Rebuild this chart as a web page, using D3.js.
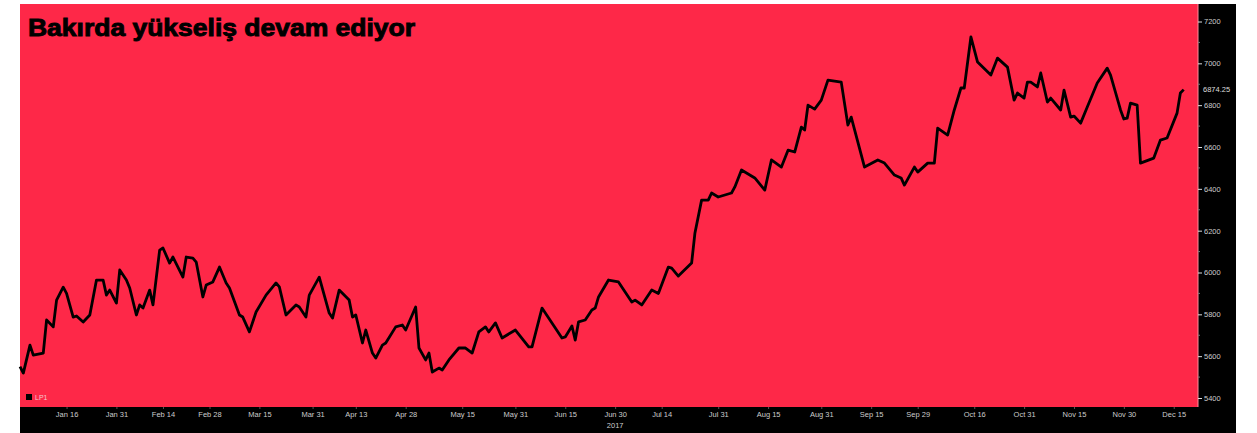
<!DOCTYPE html>
<html>
<head>
<meta charset="utf-8">
<script src="https://cdn.jsdelivr.net/npm/d3@7"></script>
<style>
  body { margin: 0; background: #fff; }
  svg { display: block; }
</style>
</head>
<body>
<svg id="chart" width="1257" height="433"></svg>
<script>
// LME copper (LP1) daily, 2017
const dates = [
  "2017-01-02","2017-01-03","2017-01-05","2017-01-06","2017-01-09","2017-01-10","2017-01-12","2017-01-13",
  "2017-01-15","2017-01-16","2017-01-18","2017-01-19","2017-01-21","2017-01-23","2017-01-25","2017-01-27",
  "2017-01-28","2017-01-29","2017-01-31","2017-02-01","2017-02-03","2017-02-04","2017-02-06","2017-02-07",
  "2017-02-08","2017-02-10","2017-02-11","2017-02-13","2017-02-14","2017-02-16","2017-02-17","2017-02-20",
  "2017-02-21","2017-02-23","2017-02-24","2017-02-26","2017-02-27","2017-03-01","2017-03-03","2017-03-05",
  "2017-03-06","2017-03-09","2017-03-10","2017-03-12","2017-03-14","2017-03-17","2017-03-20","2017-03-21",
  "2017-03-23","2017-03-26","2017-03-27","2017-03-29","2017-03-30","2017-04-02","2017-04-05","2017-04-06",
  "2017-04-08","2017-04-11","2017-04-12","2017-04-13","2017-04-15","2017-04-16","2017-04-18","2017-04-19",
  "2017-04-21","2017-04-22","2017-04-25","2017-04-27","2017-04-28","2017-05-01","2017-05-02","2017-05-04",
  "2017-05-05","2017-05-06","2017-05-08","2017-05-09","2017-05-11","2017-05-14","2017-05-16","2017-05-18",
  "2017-05-20","2017-05-22","2017-05-23","2017-05-25","2017-05-27","2017-05-31","2017-06-04","2017-06-05",
  "2017-06-08","2017-06-12","2017-06-14","2017-06-15","2017-06-17","2017-06-18","2017-06-19","2017-06-21",
  "2017-06-23","2017-06-24","2017-06-25","2017-06-28","2017-07-01","2017-07-05","2017-07-06","2017-07-08",
  "2017-07-11","2017-07-13","2017-07-16","2017-07-17","2017-07-19","2017-07-23","2017-07-24","2017-07-26",
  "2017-07-28","2017-07-29","2017-07-31","2017-08-04","2017-08-05","2017-08-07","2017-08-11","2017-08-14",
  "2017-08-16","2017-08-19","2017-08-21","2017-08-23","2017-08-25","2017-08-26","2017-08-27","2017-08-29",
  "2017-08-31","2017-09-02","2017-09-06","2017-09-08","2017-09-09","2017-09-13","2017-09-17","2017-09-19",
  "2017-09-22","2017-09-24","2017-09-25","2017-09-28","2017-09-29","2017-10-02","2017-10-04","2017-10-05",
  "2017-10-08","2017-10-10","2017-10-12","2017-10-13","2017-10-15","2017-10-17","2017-10-21","2017-10-23",
  "2017-10-26","2017-10-28","2017-10-29","2017-10-31","2017-11-01","2017-11-02","2017-11-04","2017-11-05",
  "2017-11-07","2017-11-08","2017-11-11","2017-11-12","2017-11-14","2017-11-15","2017-11-17","2017-11-19",
  "2017-11-22","2017-11-25","2017-11-26","2017-11-29","2017-11-30","2017-12-01","2017-12-02","2017-12-04",
  "2017-12-05","2017-12-09","2017-12-11","2017-12-13","2017-12-16","2017-12-17","2017-12-18"
];
const prices = [
  5550,5519,5653,5605,5615,5773,5740,5868,
  5930,5900,5787,5792,5763,5797,5964,5964,
  5892,5916,5854,6012,5964,5926,5797,5845,
  5830,5916,5845,6107,6117,6045,6074,5978,
  6074,6069,6050,5883,5940,5955,6026,5950,
  5926,5797,5787,5716,5811,5892,5950,5931,
  5797,5845,5835,5787,5892,5978,5806,5782,
  5916,5868,5787,5797,5663,5725,5615,5591,
  5653,5663,5740,5749,5725,5835,5639,5582,
  5615,5524,5543,5534,5582,5639,5639,5615,
  5716,5740,5716,5759,5687,5725,5644,5644,
  5830,5735,5687,5692,5744,5677,5764,5773,
  5821,5830,5883,5964,5955,5859,5868,5845,
  5916,5900,6026,6021,5983,6045,6189,6346,
  6346,6380,6361,6380,6409,6490,6452,6394,
  6538,6504,6585,6576,6695,6681,6800,6781,
  6824,6920,6910,6705,6743,6504,6538,6523,
  6466,6452,6418,6504,6480,6523,6523,6690,
  6657,6777,6882,6882,7126,7006,6944,7025,
  6982,6824,6858,6834,6910,6910,6887,6954,
  6815,6834,6777,6872,6743,6748,6714,6791,
  6906,6977,6944,6777,6734,6738,6810,6800,
  6523,6547,6633,6643,6762,6858,6874.25
];
const xTickDates = [
  "2017-01-16","2017-01-31","2017-02-14","2017-02-28","2017-03-15","2017-03-31","2017-04-13","2017-04-28",
  "2017-05-15","2017-05-31","2017-06-15","2017-06-30","2017-07-14","2017-07-31","2017-08-15","2017-08-31",
  "2017-09-15","2017-09-29","2017-10-16","2017-10-31","2017-11-15","2017-11-30","2017-12-15"
];
const yTicks = [5400, 5600, 5800, 6000, 6200, 6400, 6600, 6800, 7000, 7200];
const lastPrice = 6874.25;
const title = "Bakırda yükseliş devam ediyor";
const seriesName = "LP1";

function createLineChart() {
  const svg = d3.select("#chart");
  const parse = d3.utcParse("%Y-%m-%d");
  const data = dates.map((d, i) => ({ date: parse(d), value: prices[i] }));

  const panel = { left: 20, right: 1198, top: 4, bottom: 407 };
  const red = "#fe2848";
  const font = "Liberation Sans, Arial, sans-serif";

  const xScale = d3.scaleUtc()
    .domain([parse("2017-01-02"), parse("2017-12-22")])
    .range([panel.left, panel.right - 1]);

  const yScale = d3.scaleLinear()
    .domain([5400, 7200])
    .range([398, 21.5]);

  // black axis frame (right + bottom)
  svg.append("rect")
    .attr("x", panel.left).attr("y", panel.top)
    .attr("width", 1236 - panel.left).attr("height", 433 - panel.top)
    .attr("fill", "#000");

  // red plot panel
  svg.append("rect")
    .attr("x", panel.left).attr("y", panel.top)
    .attr("width", panel.right - panel.left).attr("height", panel.bottom - panel.top)
    .attr("fill", red);

  svg.append("line")
    .attr("x1", panel.right).attr("x2", panel.right)
    .attr("y1", panel.top).attr("y2", panel.bottom)
    .attr("stroke", "#ff8c9c").attr("stroke-width", 1);

  // Y axis on the right
  const yAxis = svg.append("g")
    .attr("transform", `translate(${panel.right}, 0)`)
    .call(d3.axisRight(yScale).tickValues(yTicks).tickFormat(d3.format("d"))
      .tickSize(4).tickPadding(2));
  yAxis.select(".domain").remove();
  yAxis.selectAll("line").attr("stroke", "#ddd");
  yAxis.selectAll("text")
    .attr("fill", "#ccc")
    .style("font-family", font)
    .style("font-size", "7.5px");

  // minor ticks between labelled values
  svg.append("g")
    .selectAll("line")
    .data(yTicks.slice(1).map((v) => v - 100))
    .enter()
    .append("line")
    .attr("x1", panel.right).attr("x2", panel.right + 2)
    .attr("y1", (d) => yScale(d)).attr("y2", (d) => yScale(d))
    .attr("stroke", "#777");

  // X axis at the bottom
  const xAxis = svg.append("g")
    .attr("transform", `translate(0, ${panel.bottom})`)
    .call(d3.axisBottom(xScale)
      .tickValues(xTickDates.map(parse))
      .tickFormat(d3.utcFormat("%b %-d"))
      .tickSize(2).tickPadding(3));
  xAxis.select(".domain").remove();
  xAxis.selectAll("line").attr("stroke", "#555");
  xAxis.selectAll("text")
    .attr("fill", "#ccc")
    .style("font-family", font)
    .style("font-size", "7.5px");

  svg.append("text")
    .attr("x", xScale(parse("2017-06-30")))
    .attr("y", 428)
    .attr("text-anchor", "middle")
    .attr("fill", "#ccc")
    .style("font-family", font)
    .style("font-size", "7.5px")
    .text("2017");

  // price line
  const line = d3.line()
    .x((d) => xScale(d.date))
    .y((d) => yScale(d.value));

  svg.append("path")
    .datum(data)
    .attr("fill", "none")
    .attr("stroke", "#000")
    .attr("stroke-width", 2.8)
    .attr("stroke-linejoin", "round")
    .attr("d", line);

  // last price label
  svg.append("text")
    .attr("x", panel.right + 5)
    .attr("y", yScale(lastPrice) + 2)
    .attr("fill", "#ddd")
    .style("font-family", font)
    .style("font-size", "7.5px")
    .text(lastPrice.toFixed(2));

  // legend
  svg.append("rect")
    .attr("x", 26).attr("y", 394)
    .attr("width", 6).attr("height", 6)
    .attr("fill", "#000");
  svg.append("text")
    .attr("x", 35).attr("y", 400)
    .attr("fill", "#f5c6cc")
    .style("font-family", font)
    .style("font-size", "7px")
    .text(seriesName);

  // title
  svg.append("text")
    .attr("x", 28).attr("y", 36)
    .attr("fill", "#000")
    .attr("stroke", "#000")
    .attr("stroke-width", 0.9)
    .attr("textLength", 387)
    .attr("lengthAdjust", "spacingAndGlyphs")
    .style("font-family", font)
    .style("font-weight", "bold")
    .style("font-size", "23px")
    .text(title);
}

createLineChart();
</script>
</body>
</html>
